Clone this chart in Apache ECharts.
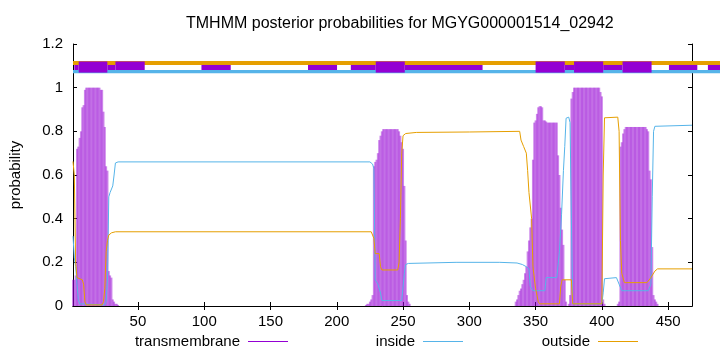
<!DOCTYPE html>
<html><head><meta charset="utf-8">
<script src="https://cdn.jsdelivr.net/npm/echarts@6/dist/echarts.min.js"></script>
<style>html,body{margin:0;padding:0;background:#fff}#c{width:720px;height:352px}</style>
</head><body><div id="c"></div>
<script>
const titleText = 'TMHMM posterior probabilities for MGYG000001514_02942';
const seqLength = 468;
const xTicks = [50, 100, 150, 200, 250, 300, 350, 400, 450];
const yTicks = [0, 0.2, 0.4, 0.6, 0.8, 1, 1.2];

// transmembrane posterior probability per residue [residue, p]
const tmProb = [
  [1,0.12],[2,0.12],[3,0.14],[4,0.72],[5,0.73],[6,0.77],[7,0.80],[8,0.91],[9,0.92],[10,0.99],
  [11,1.0],[12,1.0],[13,1.0],[14,1.0],[15,1.0],[16,1.0],[17,1.0],[18,1.0],[19,1.0],[20,1.0],
  [21,1.0],[22,0.99],[23,0.99],[24,0.89],[25,0.82],[26,0.64],[27,0.62],[28,0.16],[29,0.14],[30,0.13],
  [31,0.03],[32,0.02],[33,0.01],[34,0.01],[35,0.005],
  [222,0.005],[223,0.01],[224,0.01],[225,0.02],[226,0.03],[227,0.05],[228,0.64],[229,0.66],[230,0.67],
  [231,0.70],[232,0.76],[233,0.78],[234,0.80],[235,0.81],[236,0.81],[237,0.81],[238,0.81],[239,0.81],
  [240,0.81],[241,0.81],[242,0.81],[243,0.81],[244,0.81],[245,0.81],[246,0.81],[247,0.80],[248,0.78],
  [249,0.75],[250,0.72],[251,0.55],[252,0.30],[253,0.05],[254,0.02],[255,0.01],
  [335,0.02],[336,0.03],[337,0.05],[338,0.07],[339,0.08],[340,0.10],[341,0.12],[342,0.15],[343,0.18],
  [344,0.25],[345,0.30],[346,0.36],[347,0.40],[348,0.67],[349,0.84],[350,0.85],[351,0.88],[352,0.91],
  [353,0.915],[354,0.915],[355,0.91],[356,0.85],[357,0.85],[358,0.845],[359,0.84],[360,0.84],[361,0.84],
  [362,0.84],[363,0.84],[364,0.84],[365,0.84],[366,0.84],[367,0.69],[368,0.60],[369,0.45],[370,0.35],
  [371,0.28],[372,0.12],[373,0.02],
  [375,0.01],[376,0.05],[377,0.95],[378,0.98],[379,1.0],[380,1.0],[381,1.0],[382,1.0],[383,1.0],
  [384,1.0],[385,1.0],[386,1.0],[387,1.0],[388,1.0],[389,1.0],[390,1.0],[391,1.0],[392,1.0],[393,1.0],
  [394,1.0],[395,1.0],[396,1.0],[397,1.0],[398,1.0],[399,0.98],[400,0.96],[401,0.03],[402,0.01],
  [412,0.01],[413,0.02],[414,0.73],[415,0.75],[416,0.79],[417,0.81],[418,0.82],[419,0.82],[420,0.82],
  [421,0.82],[422,0.82],[423,0.82],[424,0.82],[425,0.82],[426,0.82],[427,0.82],[428,0.82],[429,0.82],
  [430,0.82],[431,0.82],[432,0.82],[433,0.82],[434,0.81],[435,0.80],[436,0.62],[437,0.58],[438,0.27],
  [439,0.05],[440,0.03],[441,0.02],[442,0.01]
];

// inside posterior probability [residue, p]
const insideProb = [
  [1,0.32],[2,0.22],[3,0.18],[4,0.10],[5,0.03],[6,0.01],[7,0.005],[25,0.005],[26,0.02],[27,0.12],
  [28,0.50],[29,0.52],[31,0.55],[32,0.60],[33,0.655],[35,0.66],[225,0.66],[227,0.65],[228,0.63],
  [229,0.12],[231,0.10],[233,0.06],[234,0.025],[249,0.025],[250,0.03],[251,0.15],[252,0.19],
  [254,0.195],[290,0.2],[323,0.2],[336,0.197],[340,0.19],[343,0.18],[345,0.17],[346,0.09],[348,0.07],
  [357,0.07],[358,0.13],[366,0.13],[368,0.25],[369.6,0.42],[371,0.62],[372,0.73],[373,0.86],
  [375,0.865],[376,0.84],[377,0.4],[378,0.01],[400,0.01],[401,0.06],[402,0.125],[411,0.13],
  [413,0.10],[415,0.07],[435,0.07],[437,0.10],[438,0.5],[439,0.8],[440,0.823],[468,0.828]
];

// outside posterior probability [residue, p]
const outsideProb = [
  [1,0.662],[2,0.60],[3,0.20],[4,0.13],[8,0.12],[9,0.10],[10,0.02],[11,0.005],[23,0.005],[24,0.02],
  [25,0.08],[26,0.25],[27,0.30],[28,0.325],[30,0.335],[33,0.34],[226,0.34],[227,0.337],[228,0.31],
  [229,0.24],[232,0.24],[233,0.18],[234,0.165],[246,0.165],[247,0.2],[248,0.4],[249,0.7],[250,0.78],
  [252,0.79],[260,0.795],[300,0.797],[338,0.80],[339,0.76],[341,0.73],[343,0.70],[344,0.62],
  [345,0.52],[347,0.40],[348,0.18],[350,0.08],[352,0.02],[353,0.01],[368,0.01],[369,0.09],[370,0.12],
  [377,0.12],[378,0.01],[400,0.01],[401,0.6],[402,0.862],[412,0.865],[413,0.8],[414,0.3],[415,0.15],
  [417,0.107],[434,0.107],[437,0.13],[440,0.16],[442,0.17],[468,0.17]
];

// topology strip segments [startResidue, endResidue]
const outsideStrip = [[1, 495]];
const insideStrip = [[1, 495]];
const tmThinSegments = [[2,5.3],[26.9,33],[97.9,120],[178.3,200.2],[210.6,229.4],[251.3,310],
  [372,379],[401,415.6],[450.6,472],[480,495]];
const tmMediumSegments = [[33,55.1]];
const tmThickSegments = [[5.3,26.9],[229.4,251.3],[350,372],[379,401],[415.6,437.5]];

const PURPLE = '#9400d3', BLUE = '#56b4e9', ORANGE = '#e69f00';
const FONT = 'Liberation Sans';

function stripSeries(name, segs, y0, y1, color) {
  return {
    type: 'custom', name: name, clip: false, silent: true, z: 5,
    data: segs,
    renderItem: function (params, api) {
      const a = api.coord([api.value(0), y1]);
      const b = api.coord([api.value(1), y0]);
      return { type: 'rect', shape: { x: a[0], y: a[1], width: b[0] - a[0], height: b[1] - a[1] },
        style: { fill: color } };
    }
  };
}

function legendItem(name, color, right) {
  return {
    data: [{ name: name, icon: 'rect', itemStyle: { color: color, borderWidth: 0, opacity: 1 } }],
    right: right, top: 329, align: 'right', icon: 'rect', itemWidth: 40, itemHeight: 1,
    itemStyle: { color: color, borderWidth: 0 },
    textStyle: { fontFamily: FONT, fontSize: 15, color: '#000', padding: [0, 3, 0, 0] }
  };
}

const chart = echarts.init(document.getElementById('c'), null, { renderer: 'canvas' });
const axisCommon = {
  axisLine: { show: true, lineStyle: { color: '#000', width: 1 } },
  splitLine: { show: false }
};
chart.setOption({
  animation: false,
  backgroundColor: '#fff',
  color: [PURPLE, BLUE, ORANGE],
  title: { text: titleText, left: 181, top: 11,
    textStyle: { fontFamily: FONT, fontSize: 16, fontWeight: 'normal', color: '#000' } },
  grid: { left: 73, right: 28, top: 44, bottom: 46, outerBoundsMode: 'none' },
  legend: [
    legendItem('transmembrane', PURPLE, 427),
    legendItem('inside', BLUE, 252),
    legendItem('outside', ORANGE, 77)
  ],
  xAxis: [
    Object.assign({ type: 'value', min: 1, max: seqLength, position: 'bottom',
      axisTick: { show: true, inside: true, length: 4, customValues: xTicks, lineStyle: { color: '#000' } },
      axisLabel: { show: true, customValues: xTicks, color: '#000', fontFamily: FONT, fontSize: 15, margin: 8 } }, axisCommon),
    Object.assign({ type: 'value', min: 1, max: seqLength, position: 'top',
      axisTick: { show: true, inside: true, length: 4, customValues: xTicks, lineStyle: { color: '#000' } },
      axisLabel: { show: false } }, axisCommon)
  ],
  yAxis: [
    Object.assign({ type: 'value', min: 0, max: 1.2, interval: 0.2, position: 'left',
      name: 'probability', nameLocation: 'middle', nameGap: 50, nameRotate: 90,
      nameTextStyle: { fontFamily: FONT, fontSize: 15, color: '#000' },
      axisTick: { show: true, inside: true, length: 4, lineStyle: { color: '#000' } },
      axisLabel: { show: true, color: '#000', fontFamily: FONT, fontSize: 15, margin: 10,
        formatter: function (v) { return String(+v.toFixed(1)); } } }, axisCommon),
    Object.assign({ type: 'value', min: 0, max: 1.2, interval: 0.2, position: 'right',
      axisTick: { show: true, inside: true, length: 4, lineStyle: { color: '#000' } },
      axisLabel: { show: false } }, axisCommon)
  ],
  series: [
    { name: 'transmembrane', type: 'bar', data: tmProb, barWidth: 2, z: 2,
      itemStyle: { color: 'rgba(148,0,211,0.48)' } },
    { name: 'inside', type: 'line', data: insideProb, showSymbol: false, symbol: 'none', z: 3,
      color: BLUE, lineStyle: { color: BLUE, width: 1 }, itemStyle: { color: BLUE } },
    { name: 'outside', type: 'line', data: outsideProb, showSymbol: false, symbol: 'none', z: 3,
      color: ORANGE, lineStyle: { color: ORANGE, width: 1 }, itemStyle: { color: ORANGE } },
    stripSeries('outsideStrip', outsideStrip, 1.104, 1.1225, ORANGE),
    stripSeries('insideStrip', insideStrip, 1.066, 1.081, BLUE),
    stripSeries('tmThin', tmThinSegments, 1.081, 1.104, PURPLE),
    stripSeries('tmMedium', tmMediumSegments, 1.081, 1.120, PURPLE),
    stripSeries('tmThick', tmThickSegments, 1.069, 1.120, PURPLE)
  ]
});
</script></body></html>
